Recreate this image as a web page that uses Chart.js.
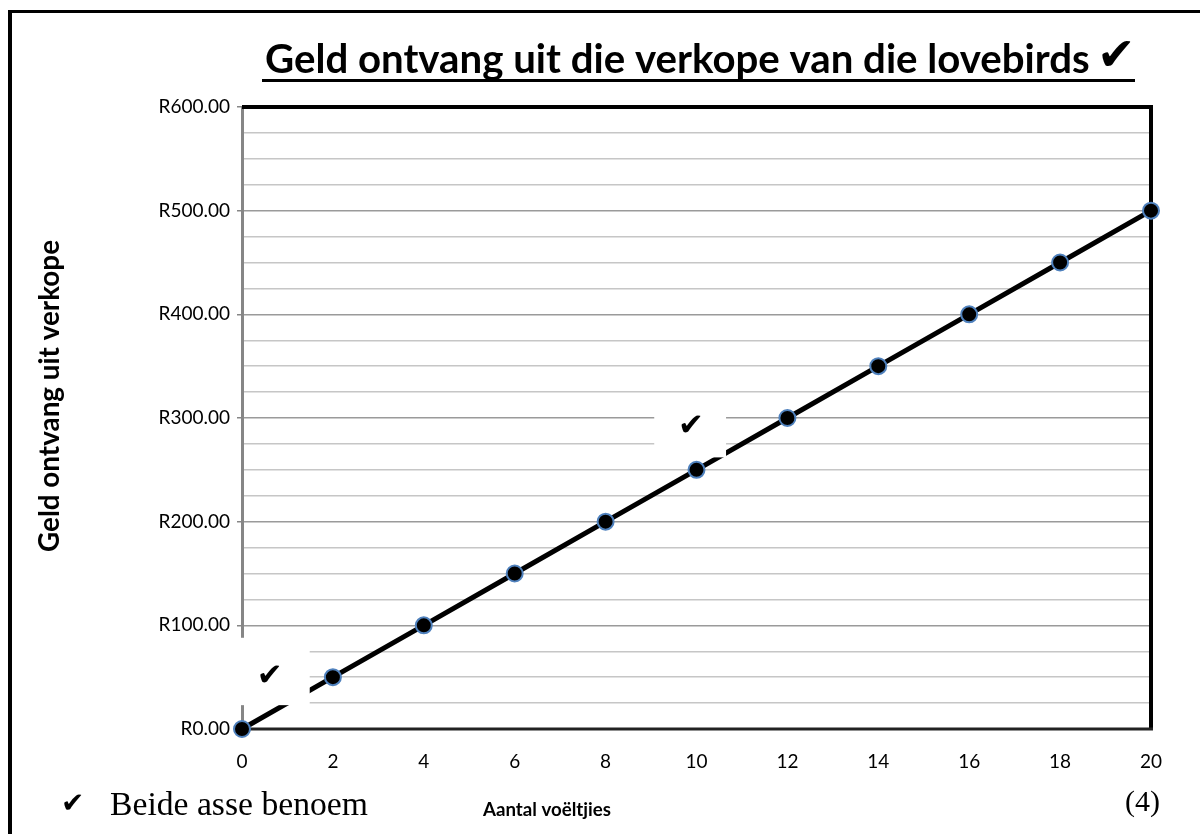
<!DOCTYPE html>
<html>
<head>
<meta charset="utf-8">
<script src="https://cdn.jsdelivr.net/npm/chart.js@4.4.1/dist/chart.umd.min.js"></script>
<style>
  html, body { margin: 0; padding: 0; background: #fff; }
  #wrap { width: 1200px; height: 834px; }
</style>
</head>
<body>
<div id="wrap"><canvas id="chart" width="1200" height="834"></canvas></div>
<script>
// data
const birdCounts = [0, 2, 4, 6, 8, 10, 12, 14, 16, 18, 20];
const income = [0, 50, 100, 150, 200, 250, 300, 350, 400, 450, 500];
const yMajorTicks = [0, 100, 200, 300, 400, 500, 600];
const yTickLabels = ['R0.00', 'R100.00', 'R200.00', 'R300.00', 'R400.00', 'R500.00', 'R600.00'];

const chartTitle = 'Geld ontvang uit die verkope van die lovebirds';
const yTitle = 'Geld ontvang uit verkope';
const xTitle = 'Aantal voëltjies';
const footLeft = 'Beide asse benoem';
const footRight = '(4)';

function fitFont(ctx, text, weight, family, width) {
  ctx.font = weight + ' 40px ' + family;
  const size = 40 * width / ctx.measureText(text).width;
  ctx.font = weight + ' ' + size.toFixed(2) + 'px ' + family;
}

// page border, plot frame, white note boxes and all free text
const decorations = {
  id: 'decorations',
  beforeDraw(chart) {
    const ctx = chart.ctx;
    ctx.save();
    ctx.fillStyle = '#000';
    ctx.fillRect(8, 10, 1192, 3);
    ctx.fillRect(8, 10, 4, 824);
    ctx.restore();
  },
  beforeDatasetsDraw(chart) {
    const { ctx, chartArea: a } = chart;
    ctx.save();
    ctx.strokeStyle = '#000';
    ctx.lineWidth = 4;
    ctx.beginPath();
    ctx.moveTo(a.left, a.top);
    ctx.lineTo(a.right, a.top);
    ctx.lineTo(a.right, a.bottom);
    ctx.stroke();
    ctx.lineWidth = 3;
    ctx.strokeStyle = '#222';
    ctx.beginPath();
    ctx.moveTo(a.left, a.bottom);
    ctx.lineTo(a.right + 2, a.bottom);
    ctx.stroke();
    ctx.restore();
  },
  afterDatasetsDraw(chart) {
    const { ctx, scales: { x, y } } = chart;
    const boxes = [
      { x0: -0.13, x1: 1.49, y0: 88, y1: 23, cx: 0.61, cy: 50 },
      { x0: 9.07, x1: 10.65, y0: 317, y1: 262, cx: 9.88, cy: 291 }
    ];
    ctx.save();
    boxes.forEach(b => {
      const l = x.getPixelForValue(b.x0), r = x.getPixelForValue(b.x1);
      const t = y.getPixelForValue(b.y0), btm = y.getPixelForValue(b.y1);
      ctx.fillStyle = '#fff';
      ctx.fillRect(l, t, r - l, btm - t);
      ctx.fillStyle = '#000';
      ctx.font = '31px "DejaVu Sans"';
      ctx.textAlign = 'center';
      ctx.textBaseline = 'middle';
      ctx.fillText('\u2714', x.getPixelForValue(b.cx), y.getPixelForValue(b.cy));
    });
    ctx.restore();
  },
  afterDraw(chart) {
    const ctx = chart.ctx;
    ctx.save();
    ctx.fillStyle = '#000';
    ctx.textBaseline = 'alphabetic';

    // title, underline and tick mark
    ctx.textAlign = 'left';
    fitFont(ctx, chartTitle, 'bold', 'Lato', 825);
    ctx.fillText(chartTitle, 265, 73);
    ctx.font = '46px "DejaVu Sans"';
    ctx.fillText('\u2714', 1097, 70);
    ctx.fillRect(262, 79, 873, 3);

    // axis titles
    ctx.textAlign = 'center';
    fitFont(ctx, xTitle, 'bold', 'Lato', 128);
    ctx.fillText(xTitle, 547, 816);

    ctx.save();
    ctx.translate(59, 396);
    ctx.rotate(-Math.PI / 2);
    fitFont(ctx, yTitle, 'bold', 'Lato', 312);
    ctx.fillText(yTitle, 0, 0);
    ctx.restore();

    // footer
    ctx.textAlign = 'left';
    ctx.font = '28px "DejaVu Sans"';
    ctx.fillText('\u2714', 61, 812);
    fitFont(ctx, footLeft, 'normal', '"Liberation Serif"', 258);
    ctx.fillText(footLeft, 110, 815);
    ctx.font = '30px "Liberation Serif"';
    ctx.fillText(footRight, 1125, 811);
    ctx.restore();
  }
};

new Chart(document.getElementById('chart'), {
  type: 'line',
  data: {
    datasets: [{
      label: 'Geld ontvang',
      data: birdCounts.map((n, i) => ({ x: n, y: income[i] })),
      borderColor: '#000',
      borderWidth: 5,
      pointRadius: 8,
      pointBorderWidth: 2,
      pointBackgroundColor: '#000',
      pointBorderColor: '#4f81bd',
      tension: 0,
      clip: false
    }]
  },
  options: {
    responsive: false,
    animation: false,
    devicePixelRatio: 1,
    layout: { padding: { left: 8, top: 107, right: 49, bottom: 65 } },
    plugins: {
      legend: { display: false },
      tooltip: { enabled: false }
    },
    scales: {
      x: {
        type: 'linear',
        min: 0,
        max: 20,
        afterFit: s => { s.height = 40; },
        grid: { display: false, drawTicks: false },
        border: { display: false },
        ticks: {
          stepSize: 2,
          padding: 21,
          color: '#000',
          font: { family: 'Lato', size: 19 }
        }
      },
      y: {
        min: 0,
        max: 600,
        afterFit: s => { s.width = 234; },
        border: { color: '#868686', width: 3 },
        grid: {
          color: c => (c.tick && c.tick.value % 100 === 0) ? '#9a9a9a' : '#c6c6c6',
          tickColor: c => (c.tick && c.tick.value % 100 === 0) ? '#868686' : 'rgba(0,0,0,0)',
          tickLength: 5,
          lineWidth: 1.5
        },
        ticks: {
          stepSize: 25,
          autoSkip: false,
          padding: 7,
          color: '#000',
          font: { family: 'Lato', size: 19 },
          callback: v => {
            const i = yMajorTicks.indexOf(v);
            return i >= 0 ? yTickLabels[i] : '';
          }
        }
      }
    }
  },
  plugins: [decorations]
});
</script>
</body>
</html>
